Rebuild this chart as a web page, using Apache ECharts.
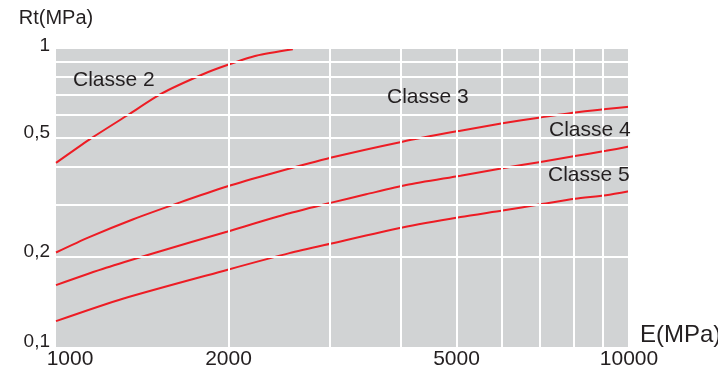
<!DOCTYPE html>
<html>
<head>
<meta charset="utf-8">
<style>
  html, body { margin: 0; padding: 0; background: #ffffff; }
  #chart { width: 718px; height: 370px; }
</style>
<script src="https://cdn.jsdelivr.net/npm/echarts@6/dist/echarts.min.js"></script>
</head>
<body>
<div id="chart"></div>
<script>
// Tensile strength Rt against modulus E, one curve per class (log-log)
const e2  = [1000, 1145, 1335, 1530, 1805, 1990, 2235, 2590];
const rt2 = [0.413, 0.495, 0.597, 0.705, 0.817, 0.877, 0.942, 0.99];

const e3  = [1000, 1143, 1361, 1642, 1987, 2389, 3025, 4024, 5081, 6016, 7009, 8049, 9116, 10000];
const rt3 = [0.207, 0.233, 0.267, 0.304, 0.344, 0.381, 0.430, 0.486, 0.529, 0.560, 0.586, 0.609, 0.625, 0.636];

const e4  = [1000, 1223, 1495, 1987, 2555, 3025, 3477, 4084, 5081, 6016, 7009, 8049, 9116, 10000];
const rt4 = [0.161, 0.184, 0.207, 0.243, 0.280, 0.304, 0.324, 0.348, 0.374, 0.396, 0.416, 0.435, 0.453, 0.468];

const e5  = [1000, 1308, 1987, 2555, 3025, 4024, 5081, 6016, 7009, 8049, 9116, 10000];
const rt5 = [0.122, 0.145, 0.181, 0.206, 0.222, 0.251, 0.272, 0.286, 0.300, 0.313, 0.322, 0.332];

const classNames = ['Classe 2', 'Classe 3', 'Classe 4', 'Classe 5'];

// Axis ticks and grid values
const xTickLabels = [1000, 2000, 5000, 10000];
const yTickLabels = [0.1, 0.2, 0.5, 1];
const xGridValues = [2000, 3000, 4000, 5000, 6000, 7000, 8000, 9000, 10000];
const yGridValues = [0.2, 0.3, 0.4, 0.5, 0.6, 0.7, 0.8, 0.9, 1];

const FONT = '"Liberation Sans", Arial, Helvetica, sans-serif';
const TEXT = '#231f20';
const RED = '#ed1c24';

const pairs = (xs, ys) => xs.map((x, i) => [x, ys[i]]);
const curves = [pairs(e2, rt2), pairs(e3, rt3), pairs(e4, rt4), pairs(e5, rt5)];

const chart = echarts.init(document.getElementById('chart'), null, { renderer: 'canvas' });

// White grid lines at every unit of each decade
const gridSeries = {
  type: 'line',
  data: [],
  silent: true,
  z: 1,
  markLine: {
    silent: true,
    symbol: ['none', 'none'],
    animation: false,
    label: { show: false },
    lineStyle: { color: '#ffffff', width: 2, type: 'solid' },
    data: xGridValues.map(v => ({ xAxis: v })).concat(yGridValues.map(v => ({ yAxis: v })))
  }
};

const curveSeries = curves.map((d, i) => ({
  name: classNames[i],
  type: 'line',
  data: d,
  smooth: 0.25,
  showSymbol: false,
  symbol: 'none',
  z: 3,
  lineStyle: { color: RED, width: 2 },
  emphasis: { disabled: true }
}));

const labelStyle = { fill: TEXT, font: '21px ' + FONT };
const yRich = { color: TEXT, fontFamily: FONT, fontSize: 19 };

chart.setOption({
  animation: false,
  grid: {
    left: 56, right: 89, top: 48, bottom: 23,
    outerBoundsMode: 'none',
    containLabel: false,
    show: true, backgroundColor: '#d1d3d4', borderWidth: 0
  },
  xAxis: {
    type: 'log', logBase: 10, min: 1000, max: 10000,
    name: 'E(MPa)',
    nameLocation: 'end',
    nameGap: 11,
    nameTextStyle: { color: TEXT, fontFamily: FONT, fontSize: 24, align: 'left', verticalAlign: 'bottom' },
    axisLine: { show: false },
    axisTick: { show: false },
    splitLine: { show: false },
    axisLabel: {
      customValues: xTickLabels,
      color: TEXT, fontFamily: FONT, fontSize: 21, margin: 2,
      formatter: v => (v === 1000 ? '{first|1000}' : String(v)),
      rich: { first: { color: TEXT, fontFamily: FONT, fontSize: 21, padding: [0, 0, 0, 28] } }
    }
  },
  yAxis: {
    type: 'log', logBase: 10, min: 0.1, max: 1,
    name: 'Rt(MPa)',
    nameLocation: 'end',
    nameGap: 20,
    nameTextStyle: { color: TEXT, fontFamily: FONT, fontSize: 20 },
    axisLine: { show: false },
    axisTick: { show: false },
    splitLine: { show: false },
    axisLabel: {
      customValues: yTickLabels,
      color: TEXT, fontFamily: FONT, fontSize: 19, margin: 6,
      formatter: v => (v === 1 ? '{top|1}' : '{t|' + String(v).replace('.', ',') + '}'),
      rich: {
        t: Object.assign({ padding: [0, 0, 10, 0] }, yRich),
        top: Object.assign({ padding: [0, 0, 4, 0] }, yRich)
      }
    }
  },
  graphic: [
    { type: 'text', z: 100, left: 73, top: 70, style: Object.assign({ text: classNames[0] }, labelStyle) },
    { type: 'text', z: 100, left: 387, top: 87, style: Object.assign({ text: classNames[1] }, labelStyle) },
    { type: 'text', z: 100, left: 549, top: 120, style: Object.assign({ text: classNames[2] }, labelStyle) },
    { type: 'text', z: 100, left: 548, top: 165, style: Object.assign({ text: classNames[3] }, labelStyle) }
  ],
  series: [gridSeries].concat(curveSeries)
});
</script>
</body>
</html>
